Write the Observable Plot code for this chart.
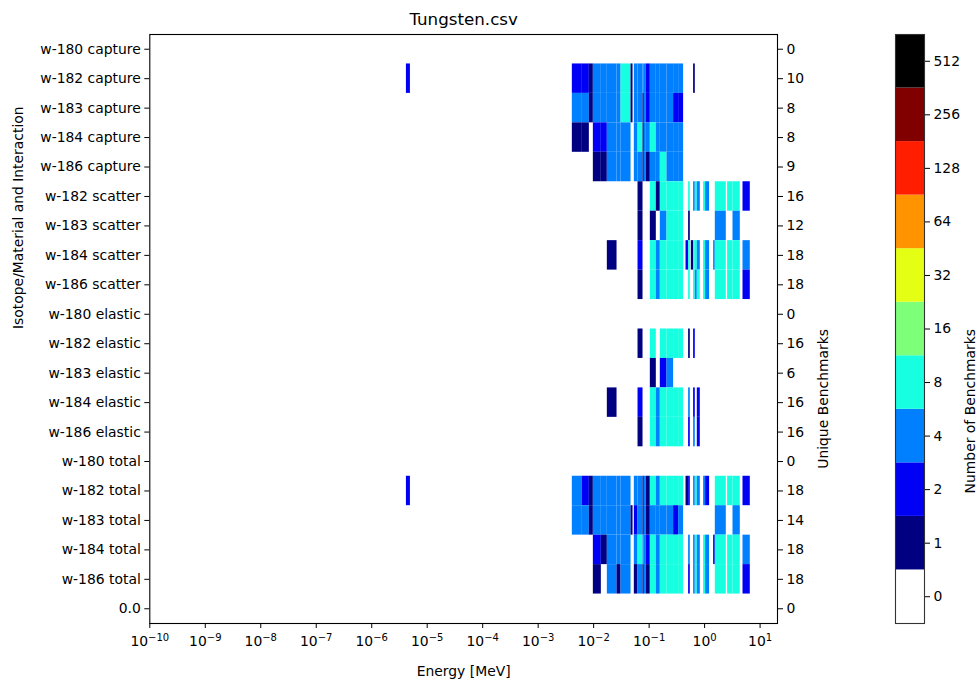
<!DOCTYPE html>
<html>
<head>
<meta charset="utf-8">
<script src="https://cdn.jsdelivr.net/npm/d3@7"></script>
<script src="https://cdn.jsdelivr.net/npm/@observablehq/plot@0.6"></script>
<style>
  html, body { margin: 0; padding: 0; background: #fff; }
  #wrap { position: relative; width: 977px; height: 680px; overflow: hidden; }
  #main { position: absolute; left: 0; top: 0; }
  #cbar { position: absolute; left: 860px; top: 0; }
</style>
</head>
<body>
<div id="wrap"><div id="main"></div><div id="cbar"></div></div>
<script>
// ---------- data ----------
const chartTitle = "Tungsten.csv";
const rowLabels = ["w-180 capture","w-182 capture","w-183 capture","w-184 capture","w-186 capture",
  "w-182 scatter","w-183 scatter","w-184 scatter","w-186 scatter",
  "w-180 elastic","w-182 elastic","w-183 elastic","w-184 elastic","w-186 elastic",
  "w-180 total","w-182 total","w-183 total","w-184 total","w-186 total","0.0"];
const uniqueBenchmarks = [0,10,8,8,9,16,12,18,18,0,16,6,16,16,0,18,14,18,18,0];

// energy bin edges [MeV]
const energyEdges = [4.22e-6, 4.98e-6, 4.13e-3, 6.26e-3, 8.37e-3, 9.88e-3, 1.376e-2, 1.765e-2,
  2.64e-2, 3.12e-2, 4.72e-2, 5.13e-2, 5.41e-2, 6.31e-2, 7.76e-2, 8.19e-2, 8.90e-2, 0.1051,
  0.1348, 0.1591, 0.2101, 0.2763, 0.3400, 0.4183, 0.4623, 0.5148, 0.5524, 0.5759, 0.6334,
  0.6797, 0.7385, 0.8365, 0.9594, 1.042, 1.231, 1.453, 1.559, 2.460, 2.597, 3.250, 4.398,
  4.919, 6.660];

// benchmark counts per energy bin (one value per bin between consecutive edges)
const w180capture = [0,0, 0,0,0,0,0,0,0,0, 0,0,0,0,0,0,0,0,0, 0,0,0,0, 0,0,0,0,0,0,0,0,0, 0,0,0,0,0,0,0,0,0,0];
const w182capture = [2,0, 2,2,1,4,4,4,4,8, 1,0,4,4,4,4,2,4,4, 4,4,4,4, 0,0,0,0,0,1,0,0,0, 0,0,0,0,0,0,0,0,0,0];
const w183capture = [0,0, 4,4,1,4,4,4,4,8, 1,0,4,4,1,4,2,4,4, 4,4,2,2, 0,0,0,0,0,0,0,0,0, 0,0,0,0,0,0,0,0,0,0];
const w184capture = [0,0, 1,1,0,2,2,4,4,4, 0,0,4,8,1,4,4,8,4, 4,4,4,4, 0,0,0,0,0,0,0,0,0, 0,0,0,0,0,0,0,0,0,0];
const w186capture = [0,0, 0,0,0,1,1,4,4,4, 0,0,4,4,1,4,1,4,4, 8,4,4,4, 0,0,0,0,0,0,0,0,0, 0,0,0,0,0,0,0,0,0,0];
const w182scatter = [0,0, 0,0,0,0,0,0,0,0, 0,0,0,1,0,0,0,8,1, 8,8,8,8, 0,0,8,0,0,4,8,4,0, 8,4,0,0,8,0,8,8,0,2];
const w183scatter = [0,0, 0,0,0,0,0,0,0,0, 0,0,0,1,0,0,0,1,0, 4,8,8,8, 0,0,1,0,0,0,0,0,0, 0,0,0,0,4,0,0,4,0,0];
const w184scatter = [0,0, 0,0,0,0,0,1,0,0, 0,0,0,2,0,0,0,8,4, 8,8,8,8, 0,2,8,0,1,8,8,4,0, 8,4,0,4,8,0,8,8,0,4];
const w186scatter = [0,0, 0,0,0,0,0,0,0,0, 0,0,0,1,0,0,0,8,4, 8,8,8,8, 0,0,8,0,0,8,4,8,0, 8,4,0,0,8,0,8,8,0,2];
const w180elastic = [0,0, 0,0,0,0,0,0,0,0, 0,0,0,0,0,0,0,0,0, 0,0,0,0, 0,0,0,0,0,0,0,0,0, 0,0,0,0,0,0,0,0,0,0];
const w182elastic = [0,0, 0,0,0,0,0,0,0,0, 0,0,0,1,0,0,0,8,0, 8,8,8,8, 0,0,1,0,0,2,0,0,0, 0,0,0,0,0,0,0,0,0,0];
const w183elastic = [0,0, 0,0,0,0,0,0,0,0, 0,0,0,0,0,0,0,1,0, 2,4,0,0, 0,0,0,0,0,0,0,0,0, 0,0,0,0,0,0,0,0,0,0];
const w184elastic = [0,0, 0,0,0,0,0,1,0,0, 0,0,0,2,0,0,0,8,4, 8,8,8,8, 0,0,4,0,0,2,0,2,0, 0,0,0,0,0,0,0,0,0,0];
const w186elastic = [0,0, 0,0,0,0,0,0,0,0, 0,0,0,1,0,0,0,8,4, 8,8,8,8, 0,0,2,0,0,4,0,2,0, 0,0,0,0,0,0,0,0,0,0];
const w180total   = [0,0, 0,0,0,0,0,0,0,0, 0,0,0,0,0,0,0,0,0, 0,0,0,0, 0,0,0,0,0,0,0,0,0, 0,0,0,0,0,0,0,0,0,0];
const w182total   = [2,0, 4,2,1,4,4,4,4,4, 0,0,4,4,1,4,1,8,4, 8,8,8,8, 0,1,2,0,0,4,8,4,0, 4,2,0,0,8,0,8,8,0,2];
const w183total   = [0,0, 4,4,1,4,4,4,4,4, 1,0,2,4,1,4,1,4,4, 4,4,2,4, 0,0,0,0,0,0,0,0,0, 0,0,0,0,4,0,0,4,0,0];
const w184total   = [0,0, 0,0,0,2,1,4,4,4, 0,0,4,8,4,4,2,8,4, 8,8,8,8, 0,0,4,0,0,4,8,4,0, 8,4,0,2,8,0,8,8,0,4];
const w186total   = [0,0, 0,0,0,1,0,4,1,4, 0,0,1,4,1,4,1,8,4, 8,8,8,8, 0,0,2,0,0,4,8,4,0, 8,4,0,0,8,0,8,8,0,2];
const zeroRow     = [0,0, 0,0,0,0,0,0,0,0, 0,0,0,0,0,0,0,0,0, 0,0,0,0, 0,0,0,0,0,0,0,0,0, 0,0,0,0,0,0,0,0,0,0];

const rowCounts = [w180capture, w182capture, w183capture, w184capture, w186capture,
  w182scatter, w183scatter, w184scatter, w186scatter,
  w180elastic, w182elastic, w183elastic, w184elastic, w186elastic,
  w180total, w182total, w183total, w184total, w186total, zeroRow];

const xTicks = [1e-10,1e-9,1e-8,1e-7,1e-6,1e-5,1e-4,1e-3,1e-2,1e-1,1e0,1e1];
const colorThresholds = [1,2,4,8,16,32,64,128,256,512];
const colorRange = ["#ffffff","#000080","#0000f5","#0080ff","#16ffe1","#7dff7a","#e4ff13","#ff9400","#ff1e00","#800000","#000000"];
const colorbarLabels = ["0","1","2","4","8","16","32","64","128","256","512"];
const colorbarValues = [0,1,2,4,8,16,32,64,128,256,512];

// ---------- build ----------
const cells = [];
rowCounts.forEach((arr, r) => {
  arr.forEach((c, i) => {
    if (c > 0) cells.push({row: rowLabels[r], x1: energyEdges[i], x2: energyEdges[i + 1], count: c});
  });
});
const benchByRow = new Map(rowLabels.map((r, i) => [r, uniqueBenchmarks[i]]));

const fmtPow = d => "10^" + Math.round(Math.log10(d));

const FONT = "DejaVu Sans, sans-serif";
const colorScale = {type: "threshold", domain: colorThresholds, range: colorRange};

const main = Plot.plot({
  width: 860, height: 680,
  marginLeft: 149.3, marginRight: 83, marginTop: 34, marginBottom: 57,
  style: {fontFamily: FONT, fontSize: "13.9px", color: "black", background: "white"},
  x: {type: "log", domain: [1e-10, 20.6]},
  y: {domain: rowLabels, padding: 0, round: false},
  color: colorScale,
  marks: [
    Plot.barX(cells, {x1: "x1", x2: "x2", y: "row", fill: "count"}),
    Plot.frame({stroke: "black", strokeWidth: 1.1}),
    Plot.axisX({ticks: xTicks, tickFormat: fmtPow, tickSize: 5, tickPadding: 8, label: null, fontSize: 13.9}),
    Plot.axisY({anchor: "left", tickSize: 5, tickPadding: 4, label: null, fontSize: 13.9}),
    Plot.axisY({anchor: "right", tickSize: 5, tickPadding: 4, label: null, tickFormat: d => String(benchByRow.get(d)), fontSize: 13.9}),
    Plot.text([chartTitle], {text: d => d, frameAnchor: "top", lineAnchor: "middle", dy: -15, fontSize: 16.7, fill: "black"}),
    Plot.text(["Energy [MeV]"], {text: d => d, frameAnchor: "bottom", lineAnchor: "middle", dy: 48, fontSize: 13.9, fill: "black"}),
    Plot.text(["Isotope/Material and Interaction"], {text: d => d, frameAnchor: "left", lineAnchor: "middle", dx: -131, rotate: -90, fontSize: 13.9, fill: "black"}),
    Plot.text(["Unique Benchmarks"], {text: d => d, frameAnchor: "right", lineAnchor: "middle", dx: 46, rotate: -90, fontSize: 13.9, fill: "black"})
  ]
});
document.getElementById("main").appendChild(main);

// render "10^k" tick labels as 10 with a raised exponent
d3.select(main).selectAll('g[aria-label="x-axis tick label"] text').each(function() {
  const s = this.textContent;
  const m = s.match(/^10\^(-?\d+)$/);
  if (!m) return;
  const t = d3.select(this);
  t.text(null);
  t.append("tspan").text("10");
  t.append("tspan").attr("dy", "-0.5em").attr("font-size", "0.72em").text(m[1].replace("-", "\u2212"));
});

const cbData = colorbarLabels.map((l, i) => ({label: l, value: colorbarValues[i]}));
const cbar = Plot.plot({
  width: 117, height: 680,
  marginLeft: 35, marginRight: 53, marginTop: 34, marginBottom: 57,
  style: {fontFamily: FONT, fontSize: "13.9px", color: "black", background: "white"},
  x: {domain: ["bar"], padding: 0, axis: null, round: false},
  y: {domain: colorbarLabels.slice().reverse(), padding: 0, axis: null, round: false},
  color: colorScale,
  marks: [
    Plot.cell(cbData, {x: () => "bar", y: "label", fill: "value", inset: 0}),
    Plot.frame({stroke: "#333", strokeWidth: 1.1}),
    Plot.axisY({anchor: "right", tickSize: 5, tickPadding: 4, label: null, fontSize: 13.9}),
    Plot.text(["Number of Benchmarks"], {text: d => d, frameAnchor: "right", lineAnchor: "middle", dx: 46, rotate: -90, fontSize: 13.9, fill: "black"})
  ]
});
document.getElementById("cbar").appendChild(cbar);
</script>
</body>
</html>
